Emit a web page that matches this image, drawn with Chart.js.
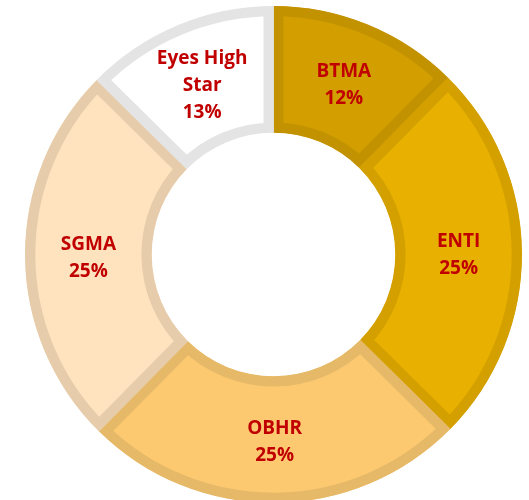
<!DOCTYPE html>
<html>
<head>
<meta charset="utf-8">
<script src="https://cdn.jsdelivr.net/npm/chart.js@4/dist/chart.umd.min.js"></script>
<style>
html,body{margin:0;padding:0;background:#ffffff;overflow:hidden;}
#wrap{width:529px;height:510px;}
</style>
</head>
<body>
<div id="wrap"><canvas id="c" width="529" height="510"></canvas></div>
<script>
const categories = ["BTMA", "ENTI", "OBHR", "SGMA", "Eyes High Star"];
const labelLines = [["BTMA"], ["ENTI"], ["OBHR"], ["SGMA"], ["Eyes High", "Star"]];
const shares = [12.4, 25, 25, 25, 12.6];
const fillColors = ["#D29E00", "#E8B000", "#FDC970", "#FFE3BE", "#FFFFFF"];
const borderColors = ["#C39200", "#D3A000", "#E6B968", "#E6CCAA", "#E4E4E4"];

const labelPlugin = {
  id: 'sliceLabels',
  afterDatasetsDraw(chart) {
    const ctx = chart.ctx;
    const meta = chart.getDatasetMeta(0);
    ctx.save();
    ctx.fillStyle = '#C00000';
    ctx.font = 'bold 19px "Open Sans", "Liberation Sans", sans-serif';
    ctx.textAlign = 'center';
    ctx.textBaseline = 'middle';
    const lh = 27;
    meta.data.forEach((arc, i) => {
      const p = arc.tooltipPosition();
      const lines = labelLines[i].concat([Math.round(shares[i]) + '%']);
      const startY = p.y + 2 - (lines.length - 1) * lh / 2;
      lines.forEach((t, k) => ctx.fillText(t, p.x, startY + k * lh));
    });
    ctx.restore();
  }
};

new Chart(document.getElementById('c'), {
  type: 'doughnut',
  data: {
    labels: categories,
    datasets: [{
      data: shares,
      backgroundColor: fillColors,
      borderColor: borderColors,
      borderWidth: 10,
      borderAlign: 'inner',
      borderJoinStyle: 'miter',
      hoverOffset: 0,
      offset: 0
    }]
  },
  options: {
    responsive: false,
    animation: false,
    cutout: '49%',
    layout: { padding: { left: 25, right: 7, top: 6, bottom: 7 } },
    plugins: { legend: { display: false }, tooltip: { enabled: false } }
  },
  plugins: [labelPlugin]
});
</script>
</body>
</html>
